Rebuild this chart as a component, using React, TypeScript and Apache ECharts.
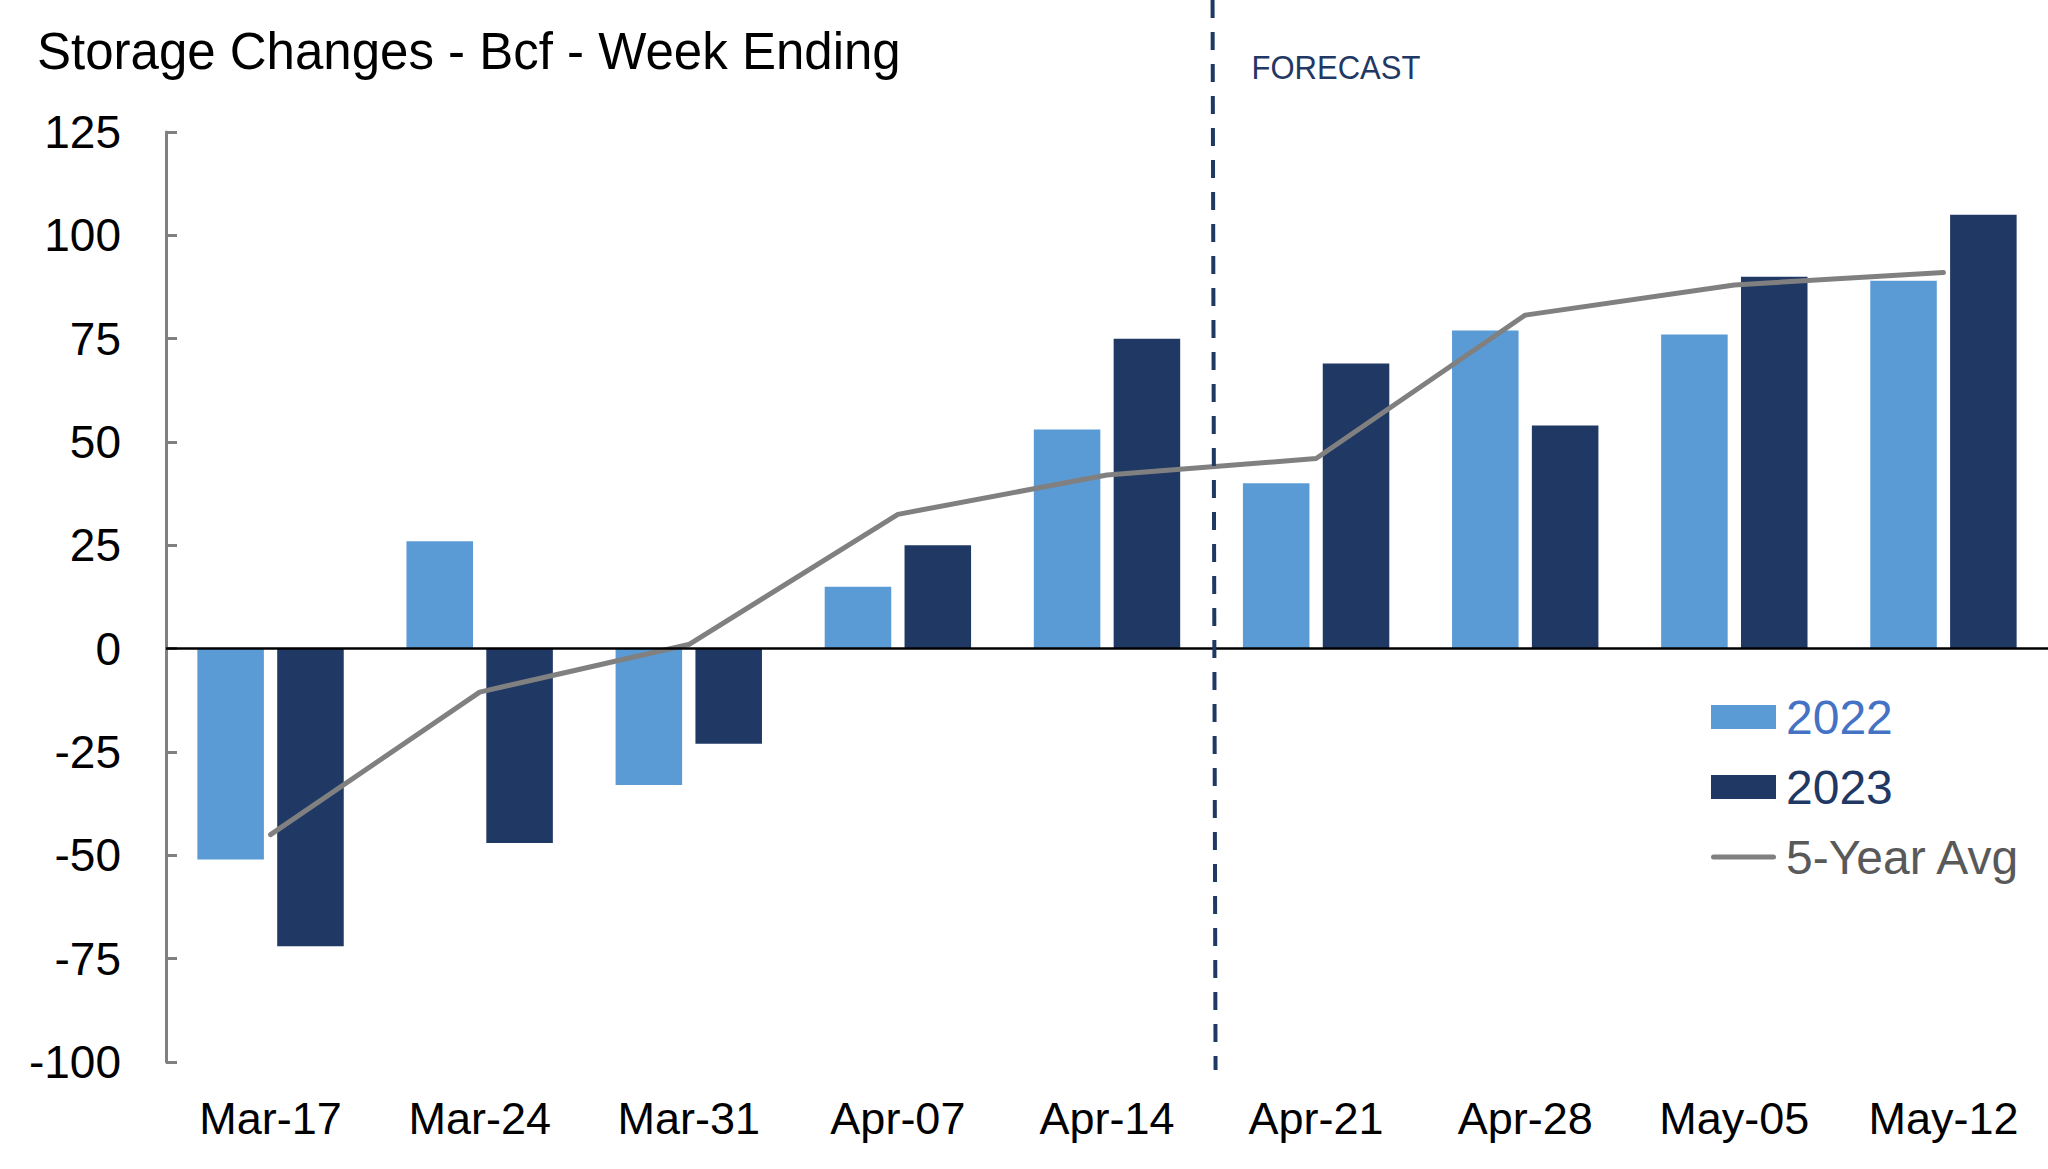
import React, { useEffect, useRef } from "react";
import * as echarts from "echarts";

const categories = ["Mar-17", "Mar-24", "Mar-31", "Apr-07", "Apr-14", "Apr-21", "Apr-28", "May-05", "May-12"];
const values2022 = [-51, 26, -33, 15, 53, 40, 77, 76, 89];
const values2023 = [-72, -47, -23, 25, 75, 69, 54, 90, 105];
const fiveYearAvg = [-45, -10.5, 1, 32.5, 42, 46, 80.7, 88, 91];
const yMin = -100;
const yMax = 125;
const yInterval = 25;
const forecastAfter = "Apr-14";
const forecastStart = "Apr-21";

const FONT = "'Liberation Sans', Arial, sans-serif";
const C2022 = "#5B9BD5";
const C2023 = "#203864";
const CAVG = "#808080";

export default function App() {
  const ref = useRef<HTMLDivElement>(null);
  useEffect(() => {
    if (!ref.current) return;
    const chart = echarts.init(ref.current, undefined, { renderer: "svg" });
    chart.setOption({
      animation: false,
      backgroundColor: "#ffffff",
      title: {
        text: "Storage Changes - Bcf - Week Ending",
        left: 37,
        top: 26,
        padding: 0,
        textStyle: { fontFamily: FONT, fontSize: 51, fontWeight: "normal", color: "#000000" },
      },
      legend: {
        orient: "vertical",
        left: 1711,
        top: 692,
        padding: 0,
        itemGap: 20,
        itemWidth: 65,
        itemHeight: 24,
        symbolKeepAspect: true,
        textStyle: { fontFamily: FONT, fontSize: 48, lineHeight: 50, padding: [0, 0, 0, 5] },
        data: [
          { name: "2022", icon: "rect", textStyle: { color: "#4472C4" } },
          { name: "2023", icon: "rect", textStyle: { color: "#1F3864" } },
          {
            name: "5-Year Avg",
            icon: "path://M2.5,0L62.5,0A2.5,2.5,0,0,1,62.5,5L2.5,5A2.5,2.5,0,0,1,2.5,0Z",
            itemStyle: { color: CAVG },
            textStyle: { color: "#595959" },
          },
        ],
      },
      grid: { left: 166, right: 0, top: 132, bottom: 107, containLabel: false },
      xAxis: {
        type: "category",
        data: categories,
        axisLine: { show: false },
        axisTick: { show: false },
        axisLabel: { fontFamily: FONT, fontSize: 45, color: "#000000", margin: 34, interval: 0 },
        splitLine: { show: false },
      },
      yAxis: {
        type: "value",
        min: yMin,
        max: yMax,
        interval: yInterval,
        axisLine: { show: true, lineStyle: { color: "#808080", width: 3 } },
        axisTick: { show: true, inside: true, length: 11, lineStyle: { color: "#808080", width: 3 } },
        axisLabel: { fontFamily: FONT, fontSize: 46, color: "#000000", margin: 45 },
        splitLine: { show: false },
      },
      series: [
        {
          name: "2022",
          type: "bar",
          data: values2022,
          barCategoryGap: "30%",
          barGap: "20%",
          itemStyle: { color: C2022 },
          markLine: {
            silent: true,
            symbol: "none",
            label: { show: false },
            lineStyle: { color: "#000000", width: 2.5, type: "solid" },
            data: [{ yAxis: 0 }],
            z: 10,
          },
        },
        {
          name: "2023",
          type: "bar",
          data: values2023,
          barCategoryGap: "30%",
          barGap: "20%",
          itemStyle: { color: C2023 },
        },
        {
          name: "5-Year Avg",
          type: "line",
          data: fiveYearAvg,
          symbol: "none",
          lineStyle: { color: CAVG, width: 5, cap: "round" },
          itemStyle: { color: CAVG },
          z: 5,
        },
      ],
    });

    const xa = chart.convertToPixel({ xAxisIndex: 0 }, forecastAfter) as number;
    const xb = chart.convertToPixel({ xAxisIndex: 0 }, forecastStart) as number;
    const xm = (xa + xb) / 2;
    chart.setOption({
      graphic: [
        {
          type: "line",
          shape: { x1: xm + 1, y1: 0, x2: xm + 4, y2: 1070 },
          style: { stroke: "#1F3864", lineWidth: 4, lineDash: [18, 14] },
          z: 20,
        },
        {
          type: "text",
          x: xm + 40,
          y: 68,
          style: {
            text: "FORECAST",
            fontFamily: FONT,
            fontSize: 33,
            fill: "#1F3864",
            verticalAlign: "middle",
            align: "left",
          },
          scaleX: 0.94,
          z: 20,
        },
      ],
    });

    return () => chart.dispose();
  }, []);
  return <div ref={ref} style={{ width: 2048, height: 1169, position: "absolute", left: 0, top: 0 }} />;
}
